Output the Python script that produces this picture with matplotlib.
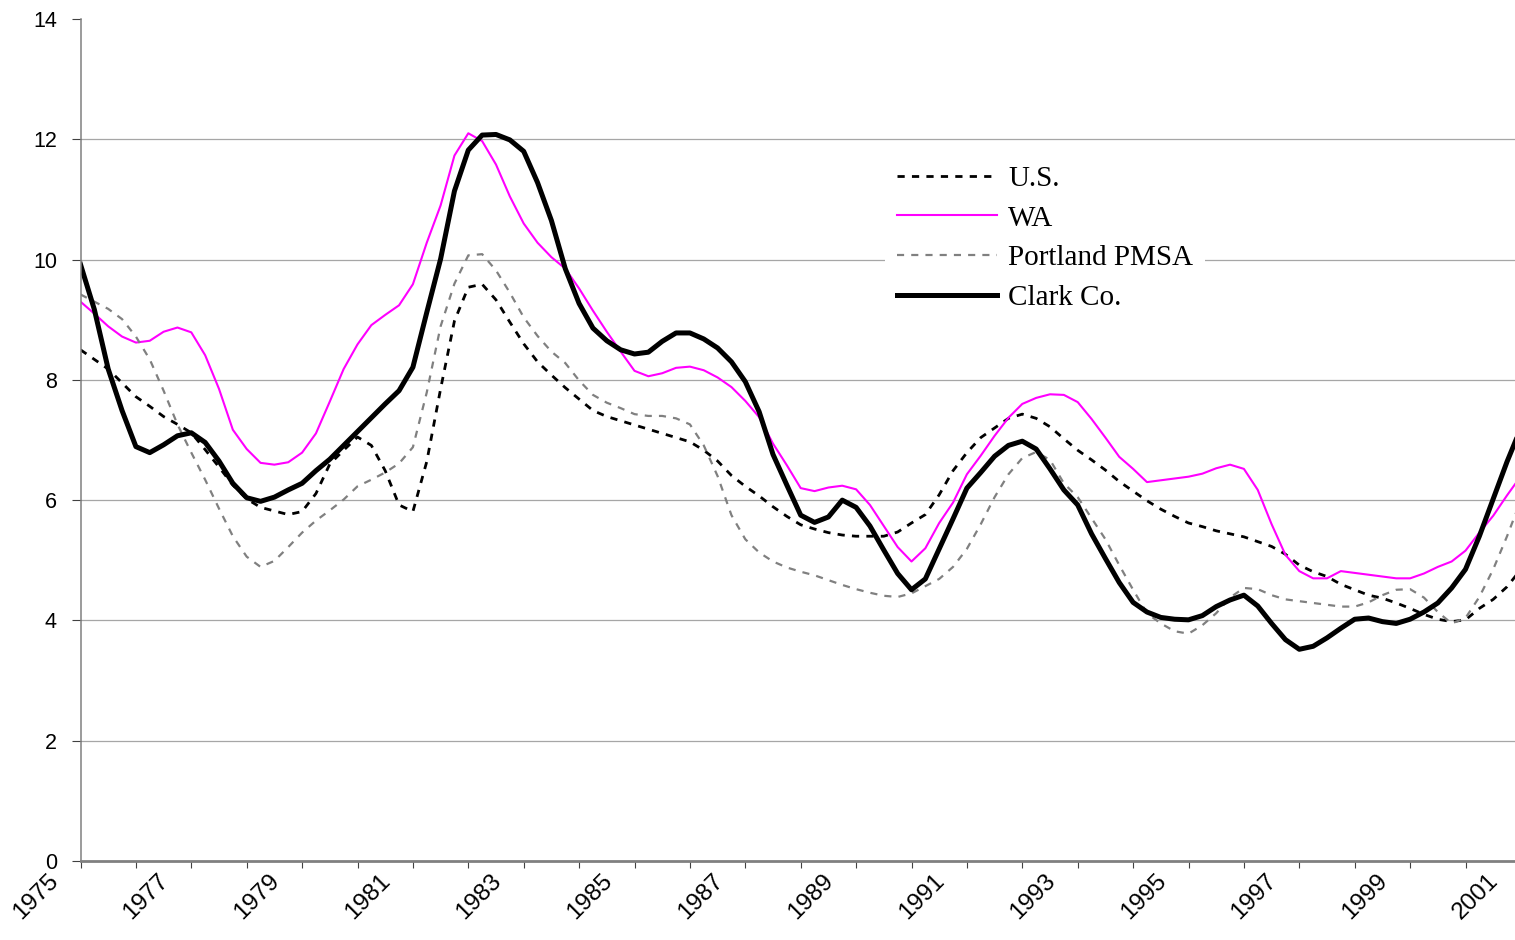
# Taxa de desemprego 1975-2001: U.S., WA, Portland PMSA e Clark Co.
import numpy as np
import matplotlib
matplotlib.use("Agg")
import matplotlib.pyplot as plt
from matplotlib.transforms import ScaledTranslation

# leituras trimestrais do grafico, de 1975.00 ate 2001.00
ANOS = np.linspace(1975, 2001, 105)

US = [8.50, 8.34, 8.18, 7.95, 7.72, 7.56, 7.39, 7.26,
      7.12, 6.84, 6.55, 6.25, 6.02, 5.88, 5.82, 5.76,
      5.81, 6.11, 6.60, 6.83, 7.05, 6.91, 6.49, 5.92,
      5.81, 6.64, 7.85, 8.98, 9.54, 9.59, 9.33, 8.96,
      8.60, 8.30, 8.08, 7.87, 7.68, 7.49, 7.39, 7.32,
      7.25, 7.18, 7.11, 7.04, 6.97, 6.83, 6.65, 6.41,
      6.23, 6.07, 5.89, 5.73, 5.59, 5.52, 5.46, 5.42,
      5.40, 5.40, 5.40, 5.47, 5.62, 5.76, 6.09, 6.49,
      6.79, 7.04, 7.20, 7.36, 7.43, 7.36, 7.22, 7.02,
      6.83, 6.67, 6.50, 6.31, 6.15, 5.99, 5.85, 5.73,
      5.62, 5.56, 5.49, 5.44, 5.39, 5.31, 5.23, 5.10,
      4.92, 4.81, 4.73, 4.60, 4.51, 4.42, 4.37, 4.29,
      4.20, 4.10, 4.02, 3.98, 4.01, 4.20, 4.35, 4.56,
      4.85]

WA = [9.30, 9.10, 8.89, 8.72, 8.62, 8.65, 8.80, 8.87,
      8.79, 8.41, 7.85, 7.17, 6.85, 6.62, 6.59, 6.63,
      6.79, 7.11, 7.64, 8.18, 8.59, 8.91, 9.08, 9.24,
      9.59, 10.28, 10.90, 11.73, 12.10, 11.97, 11.58, 11.05,
      10.60, 10.28, 10.04, 9.85, 9.52, 9.15, 8.80, 8.47,
      8.15, 8.06, 8.11, 8.20, 8.22, 8.16, 8.04, 7.88,
      7.65, 7.38, 6.94, 6.58, 6.20, 6.15, 6.21, 6.24,
      6.18, 5.92, 5.57, 5.22, 4.98, 5.20, 5.62, 5.96,
      6.43, 6.74, 7.07, 7.37, 7.60, 7.70, 7.76, 7.75,
      7.63, 7.35, 7.04, 6.72, 6.52, 6.30, 6.33, 6.36,
      6.39, 6.44, 6.53, 6.59, 6.52, 6.17, 5.60, 5.09,
      4.82, 4.70, 4.70, 4.82, 4.79, 4.76, 4.73, 4.70,
      4.70, 4.78, 4.89, 4.98, 5.16, 5.46, 5.74, 6.08,
      6.40]

PORTLAND = [9.42, 9.30, 9.18, 9.01, 8.72, 8.34, 7.82, 7.26,
            6.79, 6.34, 5.86, 5.40, 5.06, 4.89, 4.99, 5.22,
            5.46, 5.66, 5.83, 6.01, 6.23, 6.34, 6.46, 6.61,
            6.88, 7.79, 8.89, 9.60, 10.07, 10.09, 9.82, 9.45,
            9.04, 8.73, 8.47, 8.28, 7.99, 7.75, 7.62, 7.53,
            7.43, 7.40, 7.40, 7.36, 7.26, 6.91, 6.40, 5.75,
            5.35, 5.13, 4.98, 4.88, 4.81, 4.75, 4.67, 4.59,
            4.52, 4.46, 4.41, 4.39, 4.45, 4.57, 4.69, 4.89,
            5.19, 5.60, 6.05, 6.43, 6.70, 6.80, 6.67, 6.28,
            6.05, 5.70, 5.35, 4.92, 4.51, 4.12, 3.95, 3.82,
            3.78, 3.92, 4.12, 4.38, 4.54, 4.52, 4.42, 4.35,
            4.32, 4.29, 4.26, 4.23, 4.23, 4.30, 4.42, 4.51,
            4.52, 4.38, 4.14, 3.95, 4.04, 4.39, 4.85, 5.40,
            6.00]

CLARK = [9.92, 9.17, 8.18, 7.49, 6.89, 6.79, 6.92, 7.07,
         7.12, 6.96, 6.65, 6.28, 6.04, 5.98, 6.05, 6.17,
         6.28, 6.49, 6.68, 6.91, 7.14, 7.37, 7.60, 7.82,
         8.21, 9.12, 10.01, 11.14, 11.82, 12.07, 12.08, 11.99,
         11.80, 11.28, 10.65, 9.85, 9.27, 8.86, 8.65, 8.50,
         8.43, 8.46, 8.64, 8.78, 8.78, 8.68, 8.53, 8.30,
         7.97, 7.47, 6.76, 6.25, 5.75, 5.63, 5.72, 6.00,
         5.88, 5.57, 5.17, 4.78, 4.51, 4.69, 5.19, 5.69,
         6.20, 6.46, 6.73, 6.91, 6.98, 6.85, 6.52, 6.17,
         5.92, 5.44, 5.03, 4.63, 4.30, 4.14, 4.05, 4.02,
         4.01, 4.08, 4.23, 4.34, 4.42, 4.24, 3.95, 3.68,
         3.52, 3.57, 3.71, 3.87, 4.02, 4.04, 3.98, 3.95,
         4.02, 4.14, 4.29, 4.54, 4.85, 5.40, 6.02, 6.64,
         7.20]

ROTULOS = ["U.S.", "WA", "Portland PMSA", "Clark Co."]
ANOS_ROTULO = list(range(1975, 2002, 2))

plt.rcParams["font.family"] = ["Liberation Sans", "DejaVu Sans"]

fig = plt.figure(figsize=(15.15, 9.4), dpi=100)
# eixo vai um pouco alem da borda direita (a figura original esta cortada)
ax = fig.add_axes([80.5 / 1515, 79 / 940, 1440.4 / 1515, 842 / 940])

ax.plot(ANOS, US, color="black", lw=2.0, ls=(0, (2.6, 2.6)), label=ROTULOS[0])
ax.plot(ANOS, WA, color="#ff00ff", lw=1.5, label=ROTULOS[1])
ax.plot(ANOS, PORTLAND, color="#808080", lw=1.6, ls=(0, (3.2, 3.2)), label=ROTULOS[2])
ax.plot(ANOS, CLARK, color="black", lw=3.6, label=ROTULOS[3])

ax.set_xlim(1975, 2001)
ax.set_ylim(0, 14)
ax.set_yticks(range(0, 15, 2))
for y in ax.get_yticks()[1:-1]:
    ax.axhline(y, color="#a6a6a6", lw=0.9, zorder=0)

# marcas a cada ano, rotulos a cada 2 anos deslocados para a esquerda (estilo Excel)
ax.set_xticks(range(1975, 2002))
ax.tick_params(axis="x", labelbottom=False)
desloc = ax.get_xaxis_transform() + ScaledTranslation(-18 / 100, -9 / 100, fig.dpi_scale_trans)
for a in ANOS_ROTULO:
    ax.text(a, 0, str(a), transform=desloc, rotation=45, ha="right", va="top",
            fontsize=17.5, clip_on=False)

for s in ("top", "right"):
    ax.spines[s].set_visible(False)
ax.spines["left"].set_color("#808080")
ax.spines["left"].set_linewidth(1.1)
ax.spines["bottom"].set_color("#808080")
ax.spines["bottom"].set_linewidth(2.0)

ax.tick_params(axis="y", direction="out", length=6.5, width=0.8, color="#404040",
               pad=10.5, labelsize=15.5)
ax.tick_params(axis="x", direction="out", length=5, width=0.8, color="#404040")

leg = ax.legend(loc="upper left", bbox_to_anchor=(885 / 1515, 1 - 154 / 940),
                bbox_transform=fig.transFigure, borderaxespad=0, borderpad=0.4,
                handlelength=3.45, handletextpad=0.38, labelspacing=0.45,
                prop={"family": "Liberation Serif", "size": 21},
                frameon=True, fancybox=False)
leg.get_frame().set_facecolor("white")
leg.get_frame().set_edgecolor("none")
leg.get_frame().set_alpha(1)

fig.savefig("out.png", dpi=100)
